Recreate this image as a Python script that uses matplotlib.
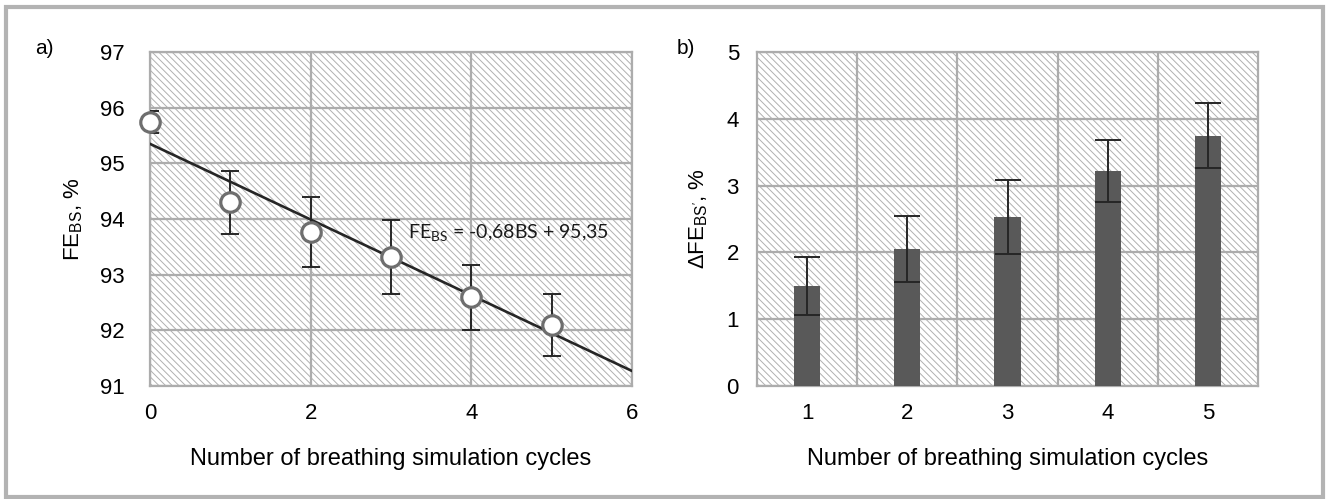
import numpy as np
import matplotlib
matplotlib.use("Agg")
import matplotlib.pyplot as plt
from matplotlib.patches import Rectangle

plt.rcParams['font.family'] = ['Liberation Sans', 'DejaVu Sans']
plt.rcParams['hatch.linewidth'] = 0.7

# panel a data
cycles_a = [0, 1, 2, 3, 4, 5]
fe_bs = [95.74, 94.30, 93.77, 93.32, 92.59, 92.10]
fe_err = [0.20, 0.57, 0.63, 0.67, 0.59, 0.56]
slope, intercept = -0.68, 95.35
eq_label = r"FE$_{\mathregular{BS}}$ = -0,68BS + 95,35"

# panel b data
cycles_b = [1, 2, 3, 4, 5]
dfe_bs = [1.50, 2.05, 2.53, 3.22, 3.75]
dfe_err = [0.43, 0.50, 0.55, 0.47, 0.48]

xlabel = "Number of breathing simulation cycles"
grid_c = '#acacac'
fs = 16
W, H = 1326, 499

fig = plt.figure(figsize=(W / 100, H / 100), dpi=100)

# outer frame
fig.patches.append(Rectangle((6 / W, 2 / H), 1317 / W, 490 / H, transform=fig.transFigure,
                             fill=False, edgecolor='#b3b3b3', linewidth=3))

def style(ax, ypad):
    ax.add_patch(Rectangle((0, 0), 1, 1, transform=ax.transAxes, fill=False,
                           hatch='\\' * 5, edgecolor='#b0b0b0', linewidth=0, zorder=0))
    for s in ax.spines.values():
        s.set_color(grid_c)
        s.set_linewidth(1.6)
    ax.grid(True, color=grid_c, linewidth=1.6)
    ax.set_axisbelow(True)
    ax.tick_params(axis='y', length=0, labelsize=fs, pad=ypad)
    ax.tick_params(axis='x', length=0, labelsize=fs, pad=12)

# ---- a) ----
ax1 = fig.add_axes([150 / W, (H - 386) / H, 482 / W, 334 / H])
style(ax1, 18)
xs = np.array([0, 6])
ax1.plot(xs, slope * xs + intercept, color='#262626', linewidth=1.9, zorder=3)
ax1.errorbar(cycles_a, fe_bs, yerr=fe_err, fmt='none', ecolor='#262626',
             elinewidth=1.4, capsize=6.5, capthick=1.4, zorder=4)
ax1.plot(cycles_a, fe_bs, 'o', markersize=14, markerfacecolor='white',
         markeredgecolor='#6e6e6e', markeredgewidth=2.3, zorder=5, clip_on=False)
ax1.set_xlim(0, 6)
ax1.set_ylim(91, 97)
ax1.set_xticks([0, 2, 4, 6])
ax1.set_yticks(range(91, 98))
ax1.text(3.21, 93.75, eq_label, family='Lato', fontsize=14, va='center', ha='left',
         color='#1a1a1a', zorder=6)
ax1.set_xlabel(xlabel, fontsize=17)
ax1.xaxis.set_label_coords(0.5, -0.185)
ax1.set_ylabel(r"FE$_{\mathregular{BS}}$, %", fontsize=fs)
ax1.yaxis.set_label_coords(-0.135, 0.5)
fig.text(35 / W, 1 - 49 / H, "a)", fontsize=15, va='center', ha='left')

# ---- b) ----
ax2 = fig.add_axes([757 / W, (H - 386) / H, 501 / W, 334 / H])
style(ax2, 13)
ax2.bar(cycles_b, dfe_bs, width=0.26, color='#595959', zorder=3)
ax2.errorbar(cycles_b, dfe_bs, yerr=dfe_err, fmt='none', ecolor='#262626',
             elinewidth=1.4, capsize=9.5, capthick=1.4, zorder=4)
ax2.set_xlim(0.5, 5.5)
ax2.set_ylim(0, 5)
ax2.set_xticks(cycles_b)
ax2.set_xticks([1.5, 2.5, 3.5, 4.5], minor=True)
ax2.tick_params(axis='x', which='minor', length=0)
ax2.grid(False, axis='x', which='major')
ax2.grid(True, axis='x', which='minor', color=grid_c, linewidth=1.6)
ax2.set_yticks(range(0, 6))
ax2.set_xlabel(xlabel, fontsize=17)
ax2.xaxis.set_label_coords(0.5, -0.185)
ax2.set_ylabel(r"ΔFE$_{\mathregular{BS'}}$, %", fontsize=fs)
ax2.yaxis.set_label_coords(-0.094, 0.5)
fig.text(677 / W, 1 - 49 / H, "b)", fontsize=15, va='center', ha='left')

fig.savefig("out.png", dpi=100)
